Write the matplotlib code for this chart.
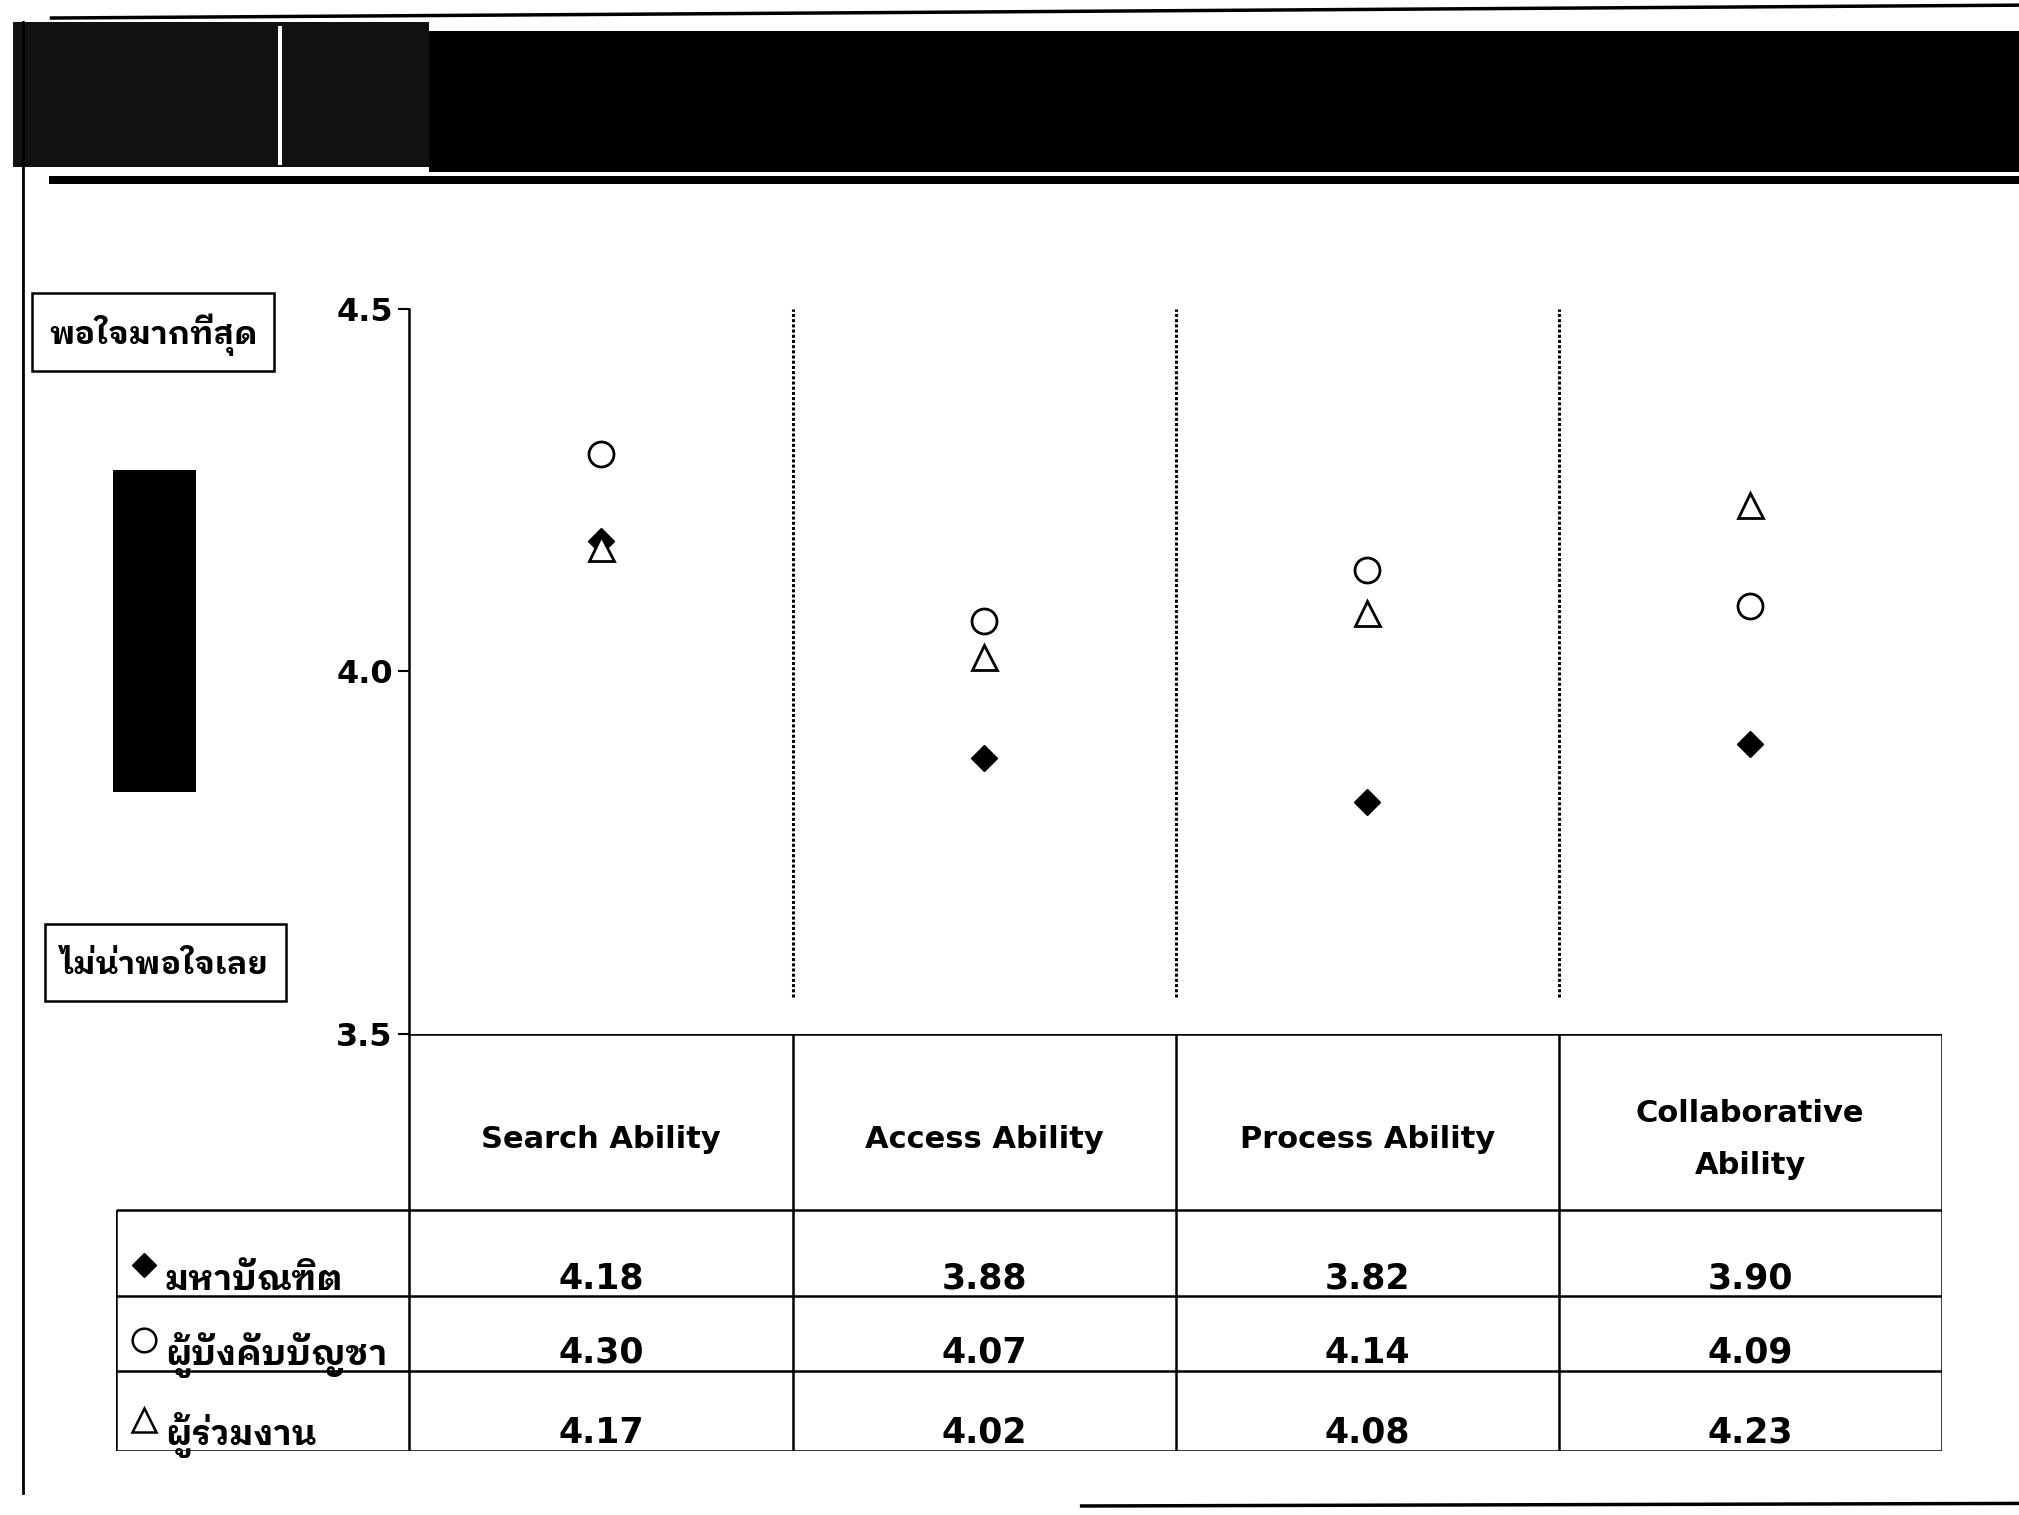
import matplotlib
matplotlib.use("Agg")
import matplotlib.pyplot as plt
from matplotlib.patches import Rectangle

# ข้อมูล
categories = ["Search Ability", "Access Ability", "Process Ability", "Collaborative\nAbility"]
groups = ["มหาบัณฑิต", "ผู้บังคับบัญชา", "ผู้ร่วมงาน"]
group_markers = ["D", "o", "^"]
graduates = [4.18, 3.88, 3.82, 3.90]
supervisors = [4.30, 4.07, 4.14, 4.09]
colleagues = [4.17, 4.02, 4.08, 4.23]
y_ticks = [3.5, 4.0, 4.5]
y_ticklabels = ["3.5", "4.0", "4.5"]
label_top = "พอใจมากที่สุด"
label_bottom = "ไม่น่าพอใจเลย"

LATIN = "DejaVu Sans"
THAI = ["IBM Plex Sans Thai Looped", "IBM Plex Sans Thai", "DejaVu Sans"]

W, H = 1568, 1177  # พิกัดอ้างอิง (ภาพย่อ)


def fx(x):
    return x / W


def fy(y):
    return 1 - y / H


def rect(fig, x0, y0, x1, y1, **kw):
    r = Rectangle((fx(x0), fy(y1)), fx(x1) - fx(x0), fy(y0) - fy(y1),
                  transform=fig.transFigure, **kw)
    fig.add_artist(r)
    return r


def fline(fig, xs, ys, **kw):
    fig.add_artist(plt.Line2D([fx(v) for v in xs], [fy(v) for v in ys],
                              transform=fig.transFigure, color="black", **kw))


fig = plt.figure(figsize=(20.19, 15.15), dpi=100)
fig.patch.set_facecolor("white")

# แถบหัวเรื่อง
rect(fig, 333, 24, W, 134, facecolor="black", edgecolor="none")
rect(fig, 10, 17, 333, 130, facecolor="#111111", edgecolor="none")
rect(fig, 216, 20, 219, 128, facecolor="white", edgecolor="none")
rect(fig, 38, 137, W, 143, facecolor="black", edgecolor="none")
fline(fig, [40, W], [14, 4], lw=2.5)
# เส้นขอบ
fline(fig, [18, 18], [17, 1160], lw=2)
fline(fig, [840, W], [1170, 1168], lw=2.5)

# ป้ายด้านซ้าย
rect(fig, 25, 228, 213, 288, facecolor="white", edgecolor="black", lw=1.8)
fig.text(fx(119), fy(260), label_top, ha="center", va="center", fontsize=23,
         fontweight="bold", family=THAI)
rect(fig, 35, 718, 222, 778, facecolor="white", edgecolor="black", lw=1.8)
fig.text(fx(128), fy(750), label_bottom, ha="center", va="center", fontsize=23,
         fontweight="bold", family=THAI)
rect(fig, 88, 365, 152, 615, facecolor="black", edgecolor="none")

# แกนกราฟ
ax_l, ax_r, ax_t, ax_b = 318, 1508, 240, 803
ax = fig.add_axes([fx(ax_l), fy(ax_b), fx(ax_r) - fx(ax_l), fy(ax_t) - fy(ax_b)])
x = list(range(len(categories)))
ax.plot(x, graduates, linestyle="none", marker=group_markers[0], ms=13, color="black")
ax.plot(x, supervisors, linestyle="none", marker=group_markers[1], ms=18,
        mfc="white", mec="black", mew=2)
ax.plot(x, colleagues, linestyle="none", marker=group_markers[2], ms=18,
        mfc="white", mec="black", mew=2)
ax.vlines([0.5, 1.5, 2.5], 3.55, 4.5, colors="black", linestyles=(0, (1, 0.7)), lw=2.2)
ax.set_xlim(-0.5, len(categories) - 0.5)
ax.set_ylim(3.5, 4.5)
ax.set_yticks(y_ticks)
ax.set_yticklabels(y_ticklabels, fontsize=23, fontweight="bold", family=LATIN)
ax.set_xticks([])
ax.tick_params(axis="y", direction="out", length=8, width=1.5, pad=4)
for s in ["top", "right", "bottom"]:
    ax.spines[s].set_visible(False)
ax.spines["left"].set_linewidth(1.8)
ax.patch.set_alpha(0)

# ตาราง (วาดเอง หน่วยเป็นพิกเซลของภาพอ้างอิง)
tbl_l, tbl_t, tbl_r, tbl_b = 90, ax_b, ax_r, 1127
tax = fig.add_axes([fx(tbl_l), fy(tbl_b), fx(tbl_r) - fx(tbl_l), fy(tbl_t) - fy(tbl_b)])
tax.set_xlim(0, tbl_r - tbl_l)
tax.set_ylim(tbl_b - tbl_t, 0)
tax.axis("off")
label_w = ax_l - tbl_l
col_w = (tbl_r - ax_l) / len(categories)
col_edges = [label_w + i * col_w for i in range(len(categories) + 1)]
row_edges = [0, 137, 204, 262, 324]
lw = 1.8
# เส้นตาราง
tax.hlines(row_edges[0], col_edges[0], col_edges[-1], color="black", lw=lw)
tax.hlines(row_edges[1:], 0, col_edges[-1], color="black", lw=lw)
tax.vlines(col_edges, row_edges[0], row_edges[-1], color="black", lw=lw)
tax.vlines(0, row_edges[1], row_edges[-1], color="black", lw=lw)

col_centres = [(a + b) / 2 for a, b in zip(col_edges[:-1], col_edges[1:])]
for cx, name in zip(col_centres, categories):
    tax.text(cx, 82, name, ha="center", va="center", fontsize=22, fontweight="bold",
             family=LATIN, linespacing=2.0)
label_clip = Rectangle((0, row_edges[1]), label_w, row_edges[-1] - row_edges[1],
                       transform=tax.transData, visible=False)
tax.add_patch(label_clip)
for r, row in enumerate((graduates, supervisors, colleagues)):
    yb = row_edges[r + 2]
    for cx, v in zip(col_centres, row):
        tax.text(cx, yb - 14, f"{v:.2f}", ha="center", va="center", fontsize=25,
                 fontweight="bold", family=LATIN)
    if group_markers[r] == "D":
        tax.plot(22, yb - 24, marker="D", ms=12, color="black", clip_on=False)
    else:
        tax.plot(22, yb - 24, marker=group_markers[r], ms=17, mfc="white",
                 mec="black", mew=1.8, clip_on=False)
    t = tax.text(38, yb - 12, groups[r], ha="left", va="center", fontsize=25,
                 fontweight="bold", family=THAI)
    t.set_clip_path(label_clip)

fig.savefig("out.png", dpi=100)
